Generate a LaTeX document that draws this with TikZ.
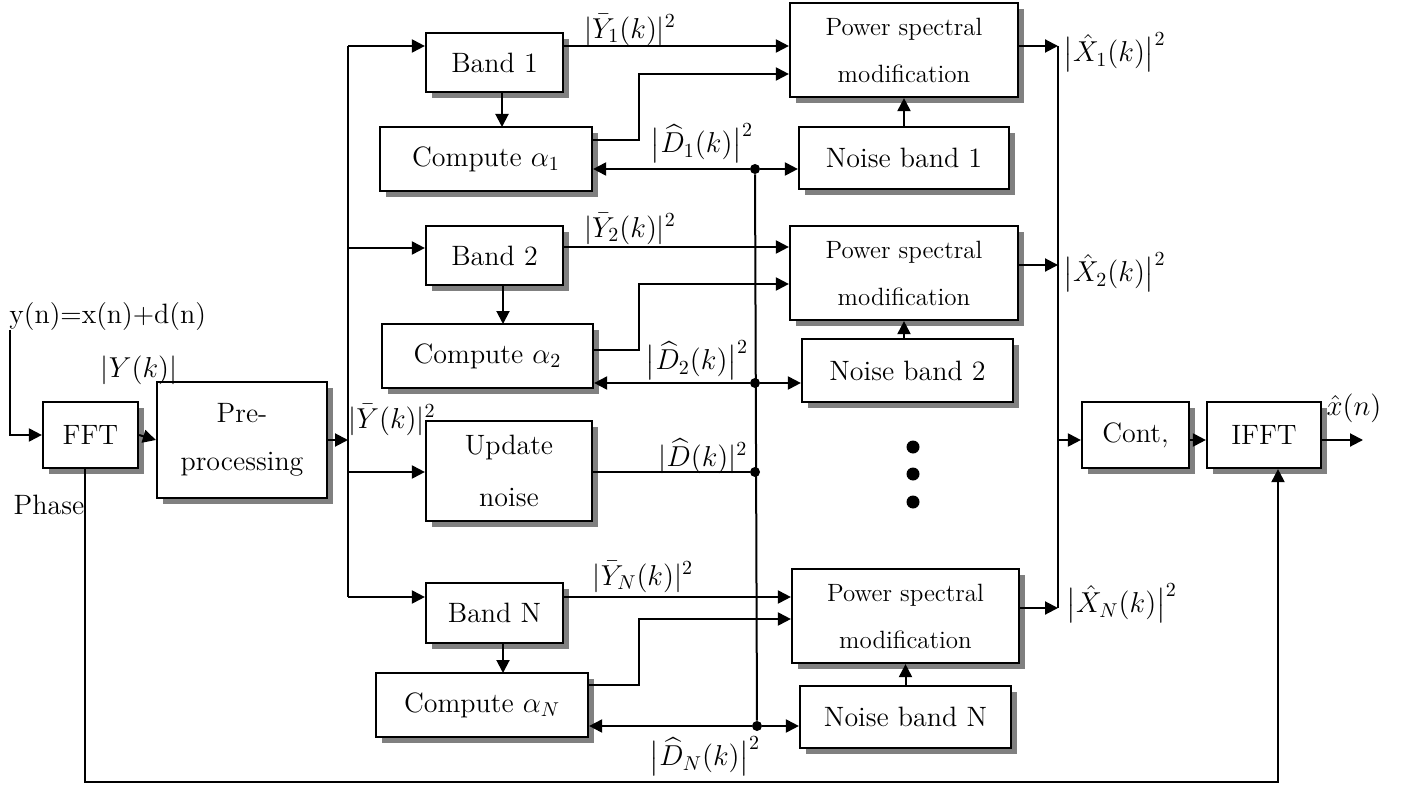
\documentclass[tikz,border=0pt]{standalone}
\usepackage{amsmath}
\usetikzlibrary{arrows.meta,shadows,calc}
\begin{document}
\begin{tikzpicture}[x=0.5pt,y=-0.5pt,
 blk/.style={draw,line width=1.1pt,fill=white,inner sep=0pt,align=center,
   font=\fontsize{14}{24}\selectfont,
   drop shadow={shadow xshift=2.8pt,shadow yshift=-2.8pt,fill=black!50,opacity=1}},
 psm/.style={blk,font=\fontsize{12.5}{23.5}\selectfont},
 arr/.style={line width=1pt,-{Triangle[length=6.5pt,width=6.5pt]}},
 ln/.style={line width=1pt},
 lbl/.style={inner sep=0pt,font=\fontsize{14}{17}\selectfont},
 jd/.style={circle,fill=black,inner sep=0pt,minimum size=5pt},
 ed/.style={circle,fill=black,inner sep=0pt,minimum size=6.5pt}]
\useasboundingbox (0,0) rectangle (1401,786);

% blocks
\node[blk,minimum width=47.5pt,minimum height=33pt] (fft) at (90.5,435) {FFT};
\node[blk,minimum width=85pt,minimum height=58pt] (pre) at (242,440) {Pre-\\processing};
\node[blk,minimum width=68.5pt,minimum height=29.5pt] (b1) at (494.5,62.5) {Band 1};
\node[blk,minimum width=106pt,minimum height=32pt] (c1) at (486,159) {Compute $\alpha_1$};
\node[blk,minimum width=68.5pt,minimum height=29.5pt] (b2) at (494.5,255.5) {Band 2};
\node[blk,minimum width=105.5pt,minimum height=32pt] (c2) at (487.5,356) {Compute $\alpha_2$};
\node[blk,minimum width=83pt,minimum height=50pt,font=\fontsize{14}{26}\selectfont] (upd) at (509,471) {Update\\noise};
\node[blk,minimum width=68.5pt,minimum height=30pt] (bN) at (494.5,613) {Band N};
\node[blk,minimum width=106pt,minimum height=32pt] (cN) at (482,705) {Compute $\alpha_N$};
\node[psm,minimum width=114pt,minimum height=47pt] (p1) at (904,50) {Power spectral\\modification};
\node[blk,minimum width=105pt,minimum height=31pt] (n1) at (904,158) {Noise band 1};
\node[psm,minimum width=114pt,minimum height=47pt] (p2) at (904,273) {Power spectral\\modification};
\node[blk,minimum width=105.5pt,minimum height=31.5pt] (n2) at (907.5,370.5) {Noise band 2};
\node[psm,minimum width=113.5pt,minimum height=47pt] (pN) at (905.5,616) {Power spectral\\modification};
\node[blk,minimum width=105.5pt,minimum height=31pt] (nN) at (905.5,717) {Noise band N};
\node[blk,minimum width=53.5pt,minimum height=33pt] (cont) at (1135.5,435) {Cont,};
\node[blk,minimum width=57pt,minimum height=33pt] (ifft) at (1264,435) {IFFT};

% helper coordinates
\coordinate (yin) at (10,330);
\coordinate (bt) at (348,46);
\coordinate (bb) at (348,597);
\coordinate (tr) at (1058,46);
\coordinate (trb) at (1058,608);
\coordinate (ph1) at (85,782);
\coordinate (ph2) at (1278,782);
\coordinate (out) at (1363,440);
\node[jd] (d1) at (755,169) {};
\node[jd] (d2) at (755,383) {};
\node[jd] (d0) at (755,472) {};
\node[jd] (dN) at (757,726) {};

% input and FFT
\draw[arr] (yin) |- (fft.west);
\draw[arr] (fft.east) -- (pre.west);
\draw[arr] (pre.east) -- (pre.east -| bt);
% bus
\draw[ln] (bt) -- (bb);
\draw[arr] (bt) -- (bt -| b1.west);
\draw[arr] (348,248) -- (b2.west |- 0,248);
\draw[arr] (348,472) -- (upd.west |- 0,472);
\draw[arr] (bb) -- (bb -| bN.west);

% band -> compute
\draw[arr] (502,92) -- (502,127);
\draw[arr] (503,285) -- (503,324);
\draw[arr] (503,643) -- (503,673);

% band -> psm
\draw[arr] (b1.east |- 0,46) -- (p1.west |- 0,46);
\draw[arr] (b2.east |- 0,247) -- (p2.west |- 0,247);
\draw[arr] (bN.east |- 0,597) -- (pN.west |- 0,597);

% compute -> psm
\draw[arr] (c1.east |- 0,140) -- (639,140) -- (639,74) -- (p1.west |- 0,74);
\draw[arr] (c2.east |- 0,350) -- (639,350) -- (639,284) -- (p2.west |- 0,284);
\draw[arr] (cN.east |- 0,685) -- (639,685) -- (639,619) -- (pN.west |- 0,619);

% noise estimate distribution
\draw[ln] (d1) -- (dN);
\draw[arr] (d1) -- (c1.east |- d1);
\draw[arr] (d1) -- (n1.west |- d1);
\draw[arr] (d2) -- (c2.east |- d2);
\draw[arr] (d2) -- (n2.west |- d2);
\draw[ln] (upd.east |- d0) -- (d0);
\draw[arr] (dN) -- (cN.east |- dN);
\draw[arr] (dN) -- (nN.west |- dN);

% noise band -> psm
\draw[arr] (n1.north) -- (p1.south);
\draw[arr] (n2.north -| p2.south) -- (p2.south);
\draw[arr] (nN.north) -- (pN.south);

% psm outputs
\draw[arr] (p1.east |- tr) -- (tr);
\draw[arr] (p2.east |- 0,265) -- (1058,265);
\draw[arr] (pN.east |- trb) -- (trb);
\draw[ln] (tr) -- (trb);
\draw[arr] (1058,440) -- (cont.west |- 0,440);
\draw[arr] (cont.east |- 0,440) -- (ifft.west |- 0,440);
\draw[arr] (ifft.east |- out) -- (out);

% phase path
\draw[arr] (fft.south -| ph1) -- (ph1) -- (ph2) -- (ph2 |- ifft.south);

% ellipsis
\node[ed] (e1) at (913,447) {};
\node[ed] (e2) at (913,474) {};
\node[ed] (e3) at (913,502) {};

% labels
\node[lbl,anchor=west] (lyin) at (9,317) {y(n)=x(n)+d(n)};
\node[lbl] (lY) at (139,370) {$|Y(k)|$};
\node[lbl] (lYb) at (392,420) {$|\bar{Y}(k)|^2$};
\node[lbl] (lph) at (49,505) {Phase};
\node[lbl] (lY1) at (630,30) {$|\bar{Y}_1(k)|^2$};
\node[lbl] (lD1) at (702,143) {$\bigl|\widehat{D}_1(k)\bigr|^2$};
\node[lbl] (lY2) at (630,229) {$|\bar{Y}_2(k)|^2$};
\node[lbl] (lD2) at (697,360) {$\bigl|\widehat{D}_2(k)\bigr|^2$};
\node[lbl] (lD0) at (703,456) {$|\widehat{D}(k)|^2$};
\node[lbl] (lYN) at (643,577) {$|\bar{Y}_N(k)|^2$};
\node[lbl] (lDN) at (705,756) {$\bigl|\widehat{D}_N(k)\bigr|^2$};
\node[lbl,anchor=west] (lX1) at (1063,52) {$\bigl|\hat{X}_1(k)\bigr|^2$};
\node[lbl,anchor=west] (lX2) at (1063,272) {$\bigl|\hat{X}_2(k)\bigr|^2$};
\node[lbl,anchor=west] (lXN) at (1066,603) {$\bigl|\hat{X}_N(k)\bigr|^2$};
\node[lbl] (lx) at (1354,408) {$\hat{x}(n)$};
\end{tikzpicture}
\end{document}
